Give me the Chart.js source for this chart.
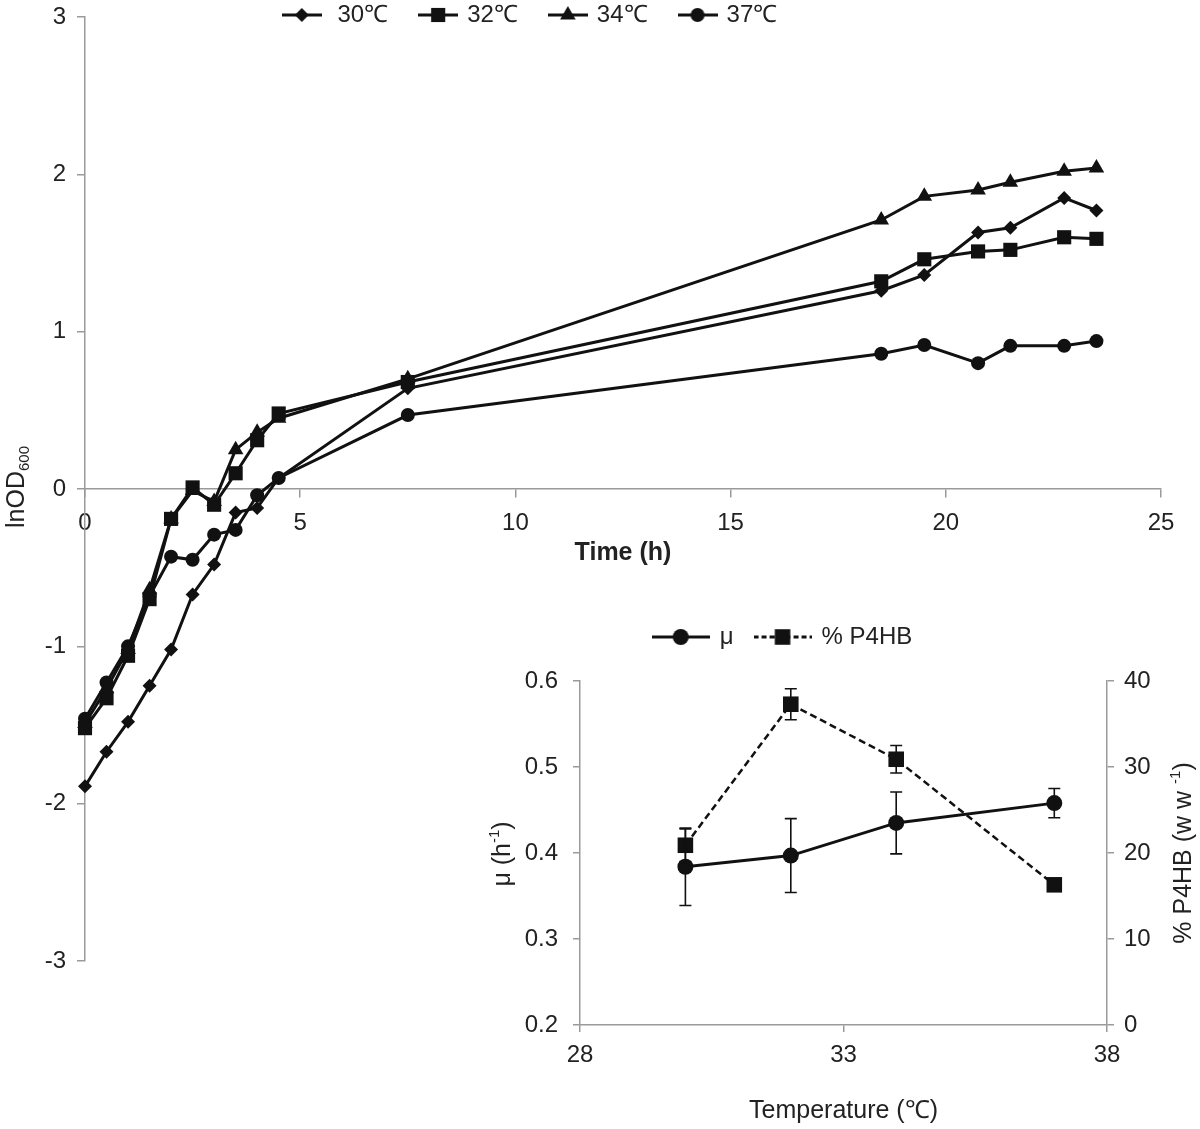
<!DOCTYPE html>
<html><head><meta charset="utf-8">
<script src="https://cdn.jsdelivr.net/npm/chart.js@4.4.1/dist/chart.umd.min.js"></script>
<style>
html,body{margin:0;padding:0;background:#fff;}
#wrap{position:relative;width:1200px;height:1129px;overflow:hidden;}
#main{position:absolute;left:0;top:0;}
#inset{position:absolute;left:480px;top:600px;}
</style></head><body>
<div id="wrap"><canvas id="main" width="1200" height="1129"></canvas><canvas id="inset" width="720" height="529"></canvas></div>
<script>
// ---------- main chart data ----------
const timeH = [0, 0.5, 1, 1.5, 2, 2.5, 3, 3.5, 4, 4.5, 7.5, 18.5, 19.5, 20.75, 21.5, 22.75, 23.5];
const seriesLabels = [' 30℃', '32℃', '34℃', '37℃'];
const lnOD30 = [-1.89, -1.67, -1.48, -1.25, -1.02, -0.67, -0.48, -0.15, -0.12, 0.07, 0.64, 1.26, 1.36, 1.63, 1.66, 1.85, 1.77];
const lnOD32 = [-1.52, -1.33, -1.06, -0.70, -0.19, 0.01, -0.10, 0.10, 0.31, 0.48, 0.68, 1.32, 1.46, 1.51, 1.52, 1.60, 1.59];
const lnOD34 = [-1.49, -1.27, -1.02, -0.64, -0.19, -0.01, -0.08, 0.25, 0.36, 0.45, 0.70, 1.71, 1.86, 1.90, 1.95, 2.02, 2.04];
const lnOD37 = [-1.46, -1.23, -1.00, -0.68, -0.43, -0.45, -0.29, -0.26, -0.04, 0.07, 0.47, 0.86, 0.915, 0.80, 0.91, 0.91, 0.94];
const mainXTicks = [0, 5, 10, 15, 20, 25];
const mainYTicks = [-3, -2, -1, 0, 1, 2, 3];

// ---------- inset data ----------
const tempC = [30, 32, 34, 37];
const insetLabels = ['μ', '% P4HB'];
const mu = [0.384, 0.397, 0.435, 0.458];
const muErr = [0.045, 0.043, 0.036, 0.017];
const p4hb = [20.9, 37.3, 30.9, 16.3];
const p4hbErr = [1.9, 1.8, 1.6, 0.5];
const insetXTicks = [28, 33, 38];
const muTicks = [0.2, 0.3, 0.4, 0.5, 0.6];
const p4hbTicks = [0, 10, 20, 30, 40];

const FONT = "'Liberation Sans', Arial, Helvetica, sans-serif";
const INK = '#111111';
const TXT = '#222222';
const AXIS = '#9a9a9a';

Chart.defaults.font.family = FONT;
Chart.defaults.color = TXT;

function drawMarker(g, style, x, y, r) {
  g.beginPath();
  if (style === 'rectRot') {
    g.moveTo(x - r, y); g.lineTo(x, y - r); g.lineTo(x + r, y); g.lineTo(x, y + r);
  } else if (style === 'rect') {
    const s = r * Math.SQRT1_2; g.rect(x - s, y - s, 2 * s, 2 * s);
  } else if (style === 'triangle') {
    const a = 2 * Math.PI / 3;
    g.moveTo(x, y - r);
    g.lineTo(x + Math.sin(a) * r, y - Math.cos(a) * r);
    g.lineTo(x + Math.sin(2 * a) * r, y - Math.cos(2 * a) * r);
  } else {
    g.arc(x, y, r, 0, Math.PI * 2);
  }
  g.closePath(); g.fill();
}
function legendIcon(style, r, dashed, len) {
  const c = document.createElement('canvas');
  c.width = len; c.height = 24;
  const g = c.getContext('2d');
  g.strokeStyle = INK; g.fillStyle = INK; g.lineWidth = 3;
  if (dashed) g.setLineDash([5, 3]);
  g.beginPath(); g.moveTo(0, 12); g.lineTo(len, 12); g.stroke();
  g.setLineDash([]);
  drawMarker(g, style, len / 2, 12, r);
  return c;
}

function pts(xs, ys) { return xs.map((x, i) => ({ x: x, y: ys[i] })); }

// legend: horizontal row placed freely, without taking layout space
function legendPlacer(cx, cy) {
  return {
    id: 'legendPlacer',
    beforeLayout(chart) {
      if (chart.legend) chart.legend.isHorizontal = () => true;
    },
    beforeDraw(chart) {
      const lg = chart.legend;
      if (!lg) return;
      const pad = lg.options.labels.padding;
      const fs = lg.options.labels.font.size;
      lg.left = cx - 500; lg.right = cx + 500;
      lg.top = cy - pad - fs / 2;
    }
  };
}

function drawRichVertical(ctx, parts, cx, cy) {
  ctx.save();
  ctx.translate(cx, cy);
  ctx.rotate(-Math.PI / 2);
  ctx.fillStyle = TXT;
  ctx.textBaseline = 'alphabetic';
  ctx.textAlign = 'left';
  let total = 0;
  parts.forEach(p => { ctx.font = p.size + 'px ' + FONT; p.w = ctx.measureText(p.text).width; total += p.w; });
  let x = -total / 2;
  parts.forEach(p => { ctx.font = p.size + 'px ' + FONT; ctx.fillText(p.text, x, p.dy); x += p.w; });
  ctx.restore();
}

const mainStyles = [
  { ps: 'rectRot', r: 7 },
  { ps: 'rect', r: 10 },
  { ps: 'triangle', r: 9 },
  { ps: 'circle', r: 7 }
];
const mainSeries = [lnOD30, lnOD32, lnOD34, lnOD37];
const mainIcons = mainStyles.map(s => legendIcon(s.ps, s.r, false, 40));

new Chart(document.getElementById('main'), {
  type: 'line',
  data: {
    datasets: mainSeries.map((ys, i) => ({
      label: seriesLabels[i],
      data: pts(timeH, ys),
      borderColor: INK,
      backgroundColor: INK,
      borderWidth: 3,
      pointStyle: mainStyles[i].ps,
      pointRadius: mainStyles[i].r,
      pointBorderWidth: 0,
      pointBackgroundColor: INK,
      tension: 0,
      clip: false
    }))
  },
  options: {
    responsive: false, animation: false, devicePixelRatio: 1,
    layout: { padding: { left: 0, top: 17, right: 39, bottom: 168 } },
    plugins: {
      tooltip: { enabled: false },
      legend: {
        position: 'chartArea', align: 'center',
        labels: {
          usePointStyle: true, pointStyleWidth: 34, padding: 33,
          font: { size: 24, family: FONT }, color: TXT,
          generateLabels: (chart) => chart.data.datasets.map((ds, i) => ({
            text: ds.label, pointStyle: mainIcons[i], fillStyle: INK, strokeStyle: INK,
            lineWidth: 0, hidden: false, datasetIndex: i, fontColor: TXT
          }))
        }
      }
    },
    scales: {
      x: {
        type: 'linear', min: 0, max: 25, position: { y: 0 },
        afterBuildTicks: s => { s.ticks = mainXTicks.map(v => ({ value: v })); },
        ticks: { font: { size: 24 }, color: TXT, padding: 12, maxRotation: 0, autoSkip: false },
        grid: { drawOnChartArea: false, drawTicks: true, tickLength: 8, color: AXIS, lineWidth: 1.5 },
        border: { display: true, color: AXIS, width: 1.5 },
        title: { display: true, text: 'Time (h)', font: { size: 25, weight: 'bold' }, color: TXT, padding: 0 },
        afterFit: s => { s.height = 79; }
      },
      y: {
        type: 'linear', min: -3, max: 3, position: 'left',
        afterBuildTicks: s => { s.ticks = mainYTicks.map(v => ({ value: v })); },
        ticks: { font: { size: 24 }, color: TXT, padding: 11 },
        grid: { drawOnChartArea: false, drawTicks: true, tickLength: 8, color: AXIS, lineWidth: 1.5 },
        border: { display: true, color: AXIS, width: 1.5 },
        afterFit: s => { s.width = 85; s.paddingTop = 0; s.paddingBottom = 0; }
      }
    }
  },
  plugins: [legendPlacer(531, 15), {
    id: 'mainTitle',
    afterDraw(chart) {
      drawRichVertical(chart.ctx, [
        { text: 'lnOD', size: 25, dy: 9 },
        { text: '600', size: 15, dy: 14 }
      ], 15, 487);
    }
  }]
});

// ---------- inset ----------
const insetIcons = [legendIcon('circle', 8, false, 58), legendIcon('rect', 11, true, 58)];
const errorBarPlugin = {
  id: 'errorBars',
  afterDatasetsDraw(chart) {
    const ctx = chart.ctx;
    chart.data.datasets.forEach((ds, i) => {
      if (!ds.errorBars) return;
      const meta = chart.getDatasetMeta(i);
      const ys = chart.scales[ds.yAxisID];
      ctx.save();
      ctx.strokeStyle = INK; ctx.lineWidth = 1.6;
      meta.data.forEach((el, j) => {
        const v = ds.data[j].y, e = ds.errorBars[j];
        const yT = ys.getPixelForValue(v + e), yB = ys.getPixelForValue(v - e);
        const x = el.x;
        ctx.beginPath();
        ctx.moveTo(x, yT); ctx.lineTo(x, yB);
        ctx.moveTo(x - 6, yT); ctx.lineTo(x + 6, yT);
        ctx.moveTo(x - 6, yB); ctx.lineTo(x + 6, yB);
        ctx.stroke();
      });
      ctx.restore();
    });
  }
};

new Chart(document.getElementById('inset'), {
  type: 'line',
  data: {
    datasets: [
      {
        label: insetLabels[0], data: pts(tempC, mu), yAxisID: 'y', errorBars: muErr,
        borderColor: INK, backgroundColor: INK, borderWidth: 3,
        pointStyle: 'circle', pointRadius: 8, pointBorderWidth: 0, pointBackgroundColor: INK, clip: false
      },
      {
        label: insetLabels[1], data: pts(tempC, p4hb), yAxisID: 'y2', errorBars: p4hbErr,
        borderColor: INK, backgroundColor: INK, borderWidth: 2.5, borderDash: [7, 4],
        pointStyle: 'rect', pointRadius: 11, pointBorderWidth: 0, pointBackgroundColor: INK, clip: false
      }
    ]
  },
  options: {
    responsive: false, animation: false, devicePixelRatio: 1,
    layout: { padding: { left: 0, top: 81, right: 0, bottom: 0 } },
    plugins: {
      tooltip: { enabled: false },
      legend: {
        position: 'chartArea', align: 'center',
        labels: {
          usePointStyle: true, pointStyleWidth: 54, padding: 22,
          font: { size: 24, family: FONT }, color: TXT,
          generateLabels: (chart) => chart.data.datasets.map((ds, i) => ({
            text: ds.label, pointStyle: insetIcons[i], fillStyle: INK, strokeStyle: INK,
            lineWidth: 0, hidden: false, datasetIndex: i, fontColor: TXT
          }))
        }
      }
    },
    scales: {
      x: {
        type: 'linear', min: 28, max: 38, position: 'bottom',
        afterBuildTicks: s => { s.ticks = insetXTicks.map(v => ({ value: v })); },
        ticks: { font: { size: 24 }, color: TXT, padding: 9, maxRotation: 0, autoSkip: false },
        grid: { drawOnChartArea: false, drawTicks: true, tickLength: 7, color: AXIS, lineWidth: 1.5 },
        border: { display: true, color: AXIS, width: 1.5 },
        title: { display: true, text: 'Temperature (℃)', font: { size: 25 }, color: TXT, padding: { top: 0, bottom: 3 } },
        afterFit: s => { s.height = 104; }
      },
      y: {
        type: 'linear', min: 0.2, max: 0.6, position: 'left',
        afterBuildTicks: s => { s.ticks = muTicks.map(v => ({ value: v })); },
        ticks: { font: { size: 24 }, color: TXT, padding: 15, callback: v => Number(v).toFixed(1) },
        grid: { drawOnChartArea: false, drawTicks: true, tickLength: 7, color: AXIS, lineWidth: 1.5 },
        border: { display: true, color: AXIS, width: 1.5 },
        afterFit: s => { s.width = 100; }
      },
      y2: {
        type: 'linear', min: 0, max: 40, position: 'right',
        afterBuildTicks: s => { s.ticks = p4hbTicks.map(v => ({ value: v })); },
        ticks: { font: { size: 24 }, color: TXT, padding: 10 },
        grid: { drawOnChartArea: false, drawTicks: true, tickLength: 7, color: AXIS, lineWidth: 1.5 },
        border: { display: true, color: AXIS, width: 1.5 },
        afterFit: s => { s.width = 93; }
      }
    }
  },
  plugins: [errorBarPlugin, legendPlacer(303, 37), {
    id: 'insetTitles',
    afterDraw(chart) {
      drawRichVertical(chart.ctx, [
        { text: 'μ (h', size: 25, dy: 9 },
        { text: '-1', size: 15, dy: -2 },
        { text: ')', size: 25, dy: 9 }
      ], 21, 254);
      drawRichVertical(chart.ctx, [
        { text: '% P4HB (w w ', size: 25, dy: 9 },
        { text: '-1', size: 15, dy: -2 },
        { text: ')', size: 25, dy: 9 }
      ], 702, 253);
    }
  }]
});
</script>
</body></html>
